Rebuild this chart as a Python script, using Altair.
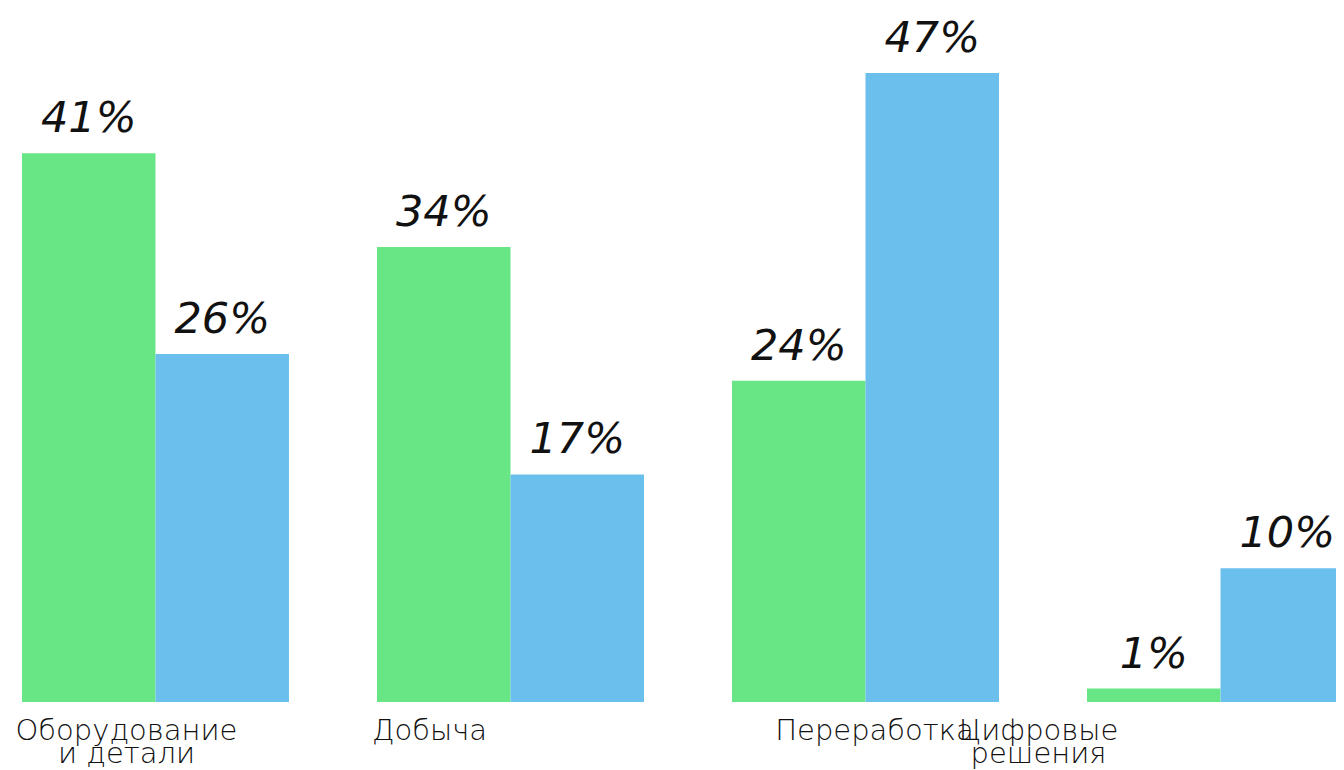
import altair as alt
import pandas as pd

categories = ["Оборудование и детали", "Добыча", "Переработка", "Цифровые решения"]
category_labels = ["Оборудование\nи детали", "Добыча", "Переработка", "Цифровые\nрешения"]
series_names = ["Серия 1", "Серия 2"]
series1_values = [41, 34, 24, 1]
series2_values = [26, 17, 47, 10]

colors = ["#68E584", "#6BBFEC"]
label_dx = [-29, -81, 9, -182]

rows = []
for c, v1, v2 in zip(categories, series1_values, series2_values):
    rows.append({"cat": c, "series": series_names[0], "value": v1, "label": f"{v1}%"})
    rows.append({"cat": c, "series": series_names[1], "value": v2, "label": f"{v2}%"})
df = pd.DataFrame(rows)

lab_df = pd.DataFrame({"cat": categories, "text": category_labels})

x = alt.X("cat:N", sort=categories, axis=None,
          scale=alt.Scale(paddingInner=0.248, paddingOuter=0))
xo = alt.XOffset("series:N", sort=series_names)
y = alt.Y("value:Q", axis=None, scale=alt.Scale(domain=[0, 47], nice=False, zero=True))

bars = alt.Chart(df).mark_bar().encode(
    x=x, xOffset=xo, y=y,
    color=alt.Color("series:N", legend=None,
                    scale=alt.Scale(domain=series_names, range=colors)),
)

vals = alt.Chart(df).mark_text(
    dy=-21, baseline="alphabetic", align="center",
    font="DejaVu Sans", fontSize=43, fontStyle="italic", fontWeight=200,
    color="#111111",
).encode(x=x, xOffset=xo, y=y, text="label:N")

layers = [bars, vals]
for c, dx in zip(categories, label_dx):
    layers.append(
        alt.Chart(lab_df).transform_filter(alt.datum.cat == c).mark_text(
            dx=dx, baseline="alphabetic", align="center", lineBreak="\n",
            lineHeight=23, font="DejaVu Sans", fontSize=29, fontWeight=200,
            color="#111111",
        ).encode(x=x, y=alt.value(667), text="text:N")
    )

chart = alt.layer(*layers).properties(
    width=1332, height=629,
    padding={"left": 14, "top": 65, "right": -18, "bottom": 68},
    autosize=alt.AutoSizeParams(type="none"),
).configure_view(stroke=None)

chart.save("out.html", embed_options={"renderer": "svg", "actions": False})
